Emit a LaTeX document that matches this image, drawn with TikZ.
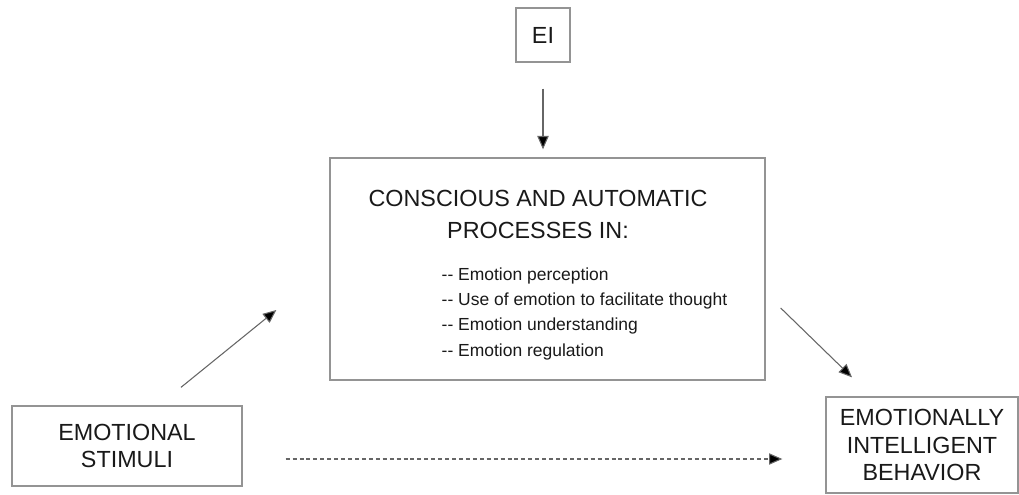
\documentclass[tikz,border=0pt]{standalone}
\usepackage{fontspec}
\setmainfont{Liberation Sans}
\usetikzlibrary{calc}
\usetikzlibrary{arrows.meta}
\tikzset{
	box/.style={draw=black!42, line width=1pt, rectangle, inner sep=0pt},
	arr/.style={draw=black!60, line width=0.8pt, -{Triangle[length=10pt,width=8.5pt,fill=black]}},
	bigtext/.style={font=\fontsize{17.5}{20.5}\selectfont, align=center, text=black!90},
	titletext/.style={font=\fontsize{17.5}{24}\selectfont, align=center, text=black!90},
	listtext/.style={font=\fontsize{13.1}{19}\selectfont, align=left, text=black!90},
}

\begin{document}
\begin{tikzpicture}[x=0.75pt,y=-0.75pt]
	\useasboundingbox (0,0) rectangle (1019,495);
	% boxes
	\node[box, bigtext, minimum width=40.5pt, minimum height=40.5pt] (ei) at (543,35) {EI};
	\node[box, minimum width=326.25pt, minimum height=166.5pt] (main) at (547.5,269) {};
	\node[box, bigtext, minimum width=172.5pt, minimum height=60pt] (stim) at (127,446) {EMOTIONAL\\STIMULI};
	\node[box, bigtext, minimum width=144pt, minimum height=72pt] (beh) at (922,445) {EMOTIONALLY\\INTELLIGENT\\BEHAVIOR};
	% text in the middle box
	\node[titletext] (title) at (538,214) {CONSCIOUS AND AUTOMATIC\\PROCESSES IN:};
	\node[listtext, anchor=west] (list) at (437,313.5) {-{}- Emotion perception\\-{}- Use of emotion to facilitate thought\\-{}- Emotion understanding\\-{}- Emotion regulation};
	% arrows
	\draw[arr] ($(ei.south)+(0,26)$) -- ($(main.north)+(-4.5,-8)$);
	\draw[arr] ($(stim.north)+(54,-18)$) -- ($(main.west)+(-53,41)$);
	\draw[arr] ($(main.east)+(15,39)$) -- ($(beh.north)+(-70,-19)$);
	\draw[arr, dash pattern=on 3pt off 2.2pt] ($(stim.east)+(43,13)$) -- ($(beh.west)+(-43,14)$);
\end{tikzpicture}
\end{document}
